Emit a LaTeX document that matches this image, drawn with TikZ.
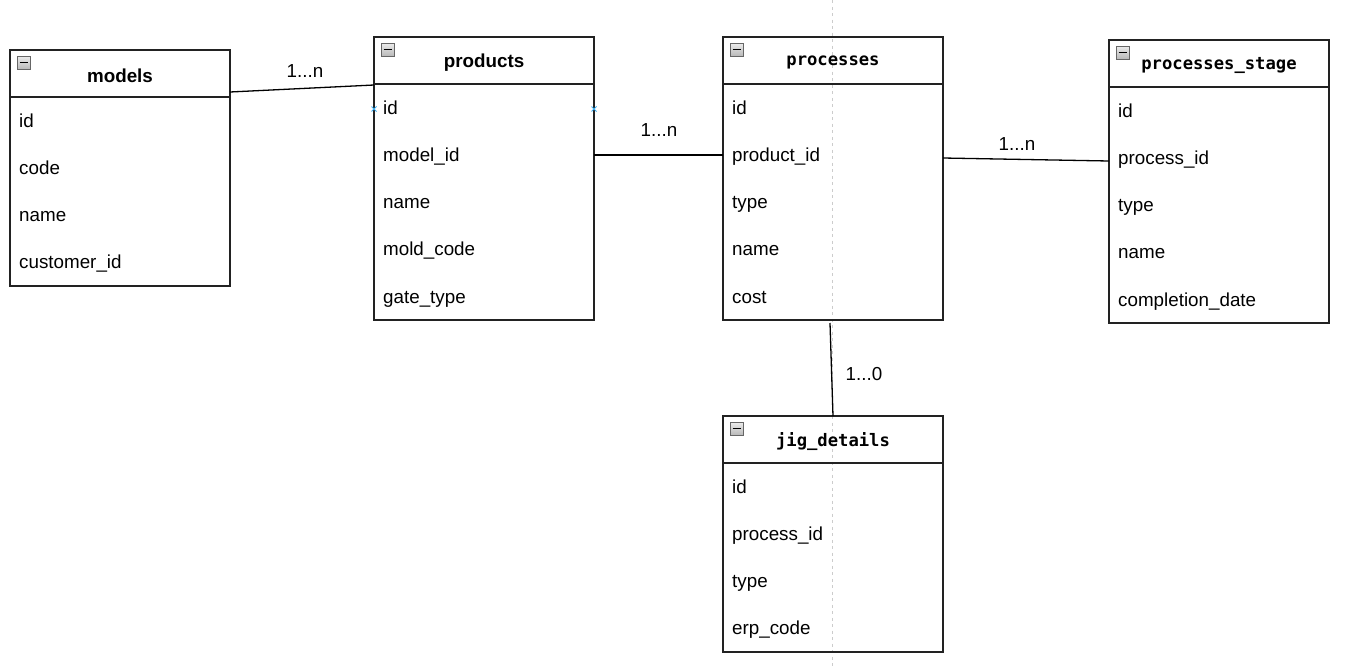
\documentclass[tikz,border=0pt]{standalone}
\usepackage{fontspec}
\setmainfont{Liberation Sans}
\newfontfamily\codefont{DejaVu Sans Mono}
\usetikzlibrary{calc}
\definecolor{edge}{HTML}{222222}
\definecolor{pagegray}{HTML}{CCCCCC}
\definecolor{hintblue}{HTML}{3DADF0}
\tikzset{
  tbl/.style={draw=edge,line width=1.6pt,minimum width=220pt,inner sep=0pt,outer sep=0pt},
  tblline/.style={draw=edge,line width=1.6pt},
  ttlsans/.style={font=\fontsize{18.8}{22}\selectfont\bfseries,inner sep=0pt},
  ttlcode/.style={font=\fontsize{17.2}{21}\selectfont\codefont\bfseries,inner sep=0pt},
  fld/.style={anchor=west,inner sep=0pt,text height=14pt,text depth=4pt,font=\fontsize{18.8}{22}\selectfont},
  lbl/.style={inner sep=0pt,font=\fontsize{18.8}{22}\selectfont},
  icon/.style={draw=gray!80!black,line width=0.8pt,top color=gray!15,bottom color=gray!55},
  rel/.style={draw=black,line width=1.3pt},
  hint/.style={draw=hintblue,line width=0.9pt},
}
% entity box: name, left, top, height, title style, title, fields
\newcommand{\erent}[7]{%
  \node[tbl,minimum height=#4pt,anchor=north west] (#1) at (#2,#3) {};
  \draw[tblline] ($(#1.north west)+(0,47)$) -- ($(#1.north east)+(0,47)$);
  \node[#5] (#1-title) at ($(#1.north)+(0,25.5)$) {#6};
  \draw[icon] ($(#1.north west)+(7,6)$) rectangle ++(13,13);
  \draw[line width=1.6pt] ($(#1.north west)+(9.5,12.5)$) -- ++(8,0);
  \foreach \f [count=\i] in {#7}
    \node[fld] (#1-\i) at ($(#1.north west)+(9,72+47.3*\i-47.3)$) {\f};
}
\begin{document}
\begin{tikzpicture}[x=1pt,y=-1pt]
  \useasboundingbox (0,0) rectangle (1350,667);
  % page break line
  \draw[pagegray,line width=0.9pt,dash pattern=on 3pt off 3.5pt] (832,0) -- (832,667);

  \erent{models}{10}{50}{236}{ttlsans}{models}{id,code,name,customer\_id}
  \erent{products}{374}{37}{283}{ttlsans}{products}{id,model\_id,name,mold\_code,gate\_type}
  \erent{processes}{723}{37}{283}{ttlcode}{processes}{id,product\_id,type,name,cost}
  \erent{stage}{1109}{40}{283}{ttlcode}{processes\_stage}{id,process\_id,type,name,completion\_date}
  \erent{jig}{723}{416}{236}{ttlcode}{jig\_details}{id,process\_id,type,erp\_code}

  % connection hints
  \foreach \a in {products.west,products.east}
    \draw[hint] ($(\a |- products-1)+(-2.5,-2.5)$) -- ++(5,5)
                ($(\a |- products-1)+(-2.5,2.5)$) -- ++(5,-5);

  % relations
  \draw[rel] ($(models.north east)+(0,42)$) -- ($(products.north west)+(0,48)$);
  \draw[rel] ($(products.north east)+(0,118)$) -- ($(processes.north west)+(0,118)$);
  \draw[rel] ($(processes.north east)+(0,121)$) -- ($(stage.north west)+(0,121)$);
  \draw[rel] ($(processes.south)+(-3,3)$) -- (jig.north);

  \node[lbl] (models-products) at (305,71) {1...n};
  \node[lbl] (products-processes) at (659,130) {1...n};
  \node[lbl] (processes-stage) at (1017,144) {1...n};
  \node[lbl] (processes-jig) at (864,374) {1...0};
\end{tikzpicture}
\end{document}
